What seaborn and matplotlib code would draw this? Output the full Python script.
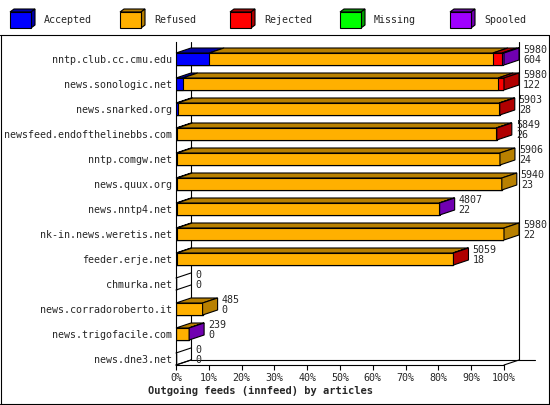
import numpy as np
import pandas as pd
import matplotlib
matplotlib.use("Agg")
import matplotlib.pyplot as plt
import seaborn as sns
from matplotlib.patches import Polygon
from matplotlib.lines import Line2D

hosts = ["nntp.club.cc.cmu.edu", "news.sonologic.net", "news.snarked.org",
         "newsfeed.endofthelinebbs.com", "nntp.comgw.net", "news.quux.org",
         "news.nntp4.net", "nk-in.news.weretis.net", "feeder.erje.net",
         "chmurka.net", "news.corradoroberto.it", "news.trigofacile.com",
         "news.dne3.net"]
offered = [5980, 5980, 5903, 5849, 5906, 5940, 4807, 5980, 5059, 0, 485, 239, 0]
accepted = [604, 122, 28, 26, 24, 23, 22, 22, 18, 0, 0, 0, 0]
refused = [5173, 5750, 5865, 5811, 5882, 5917, 4777, 5958, 5031, 0, 485, 237, 0]
rejected = [167, 108, 10, 12, 0, 0, 0, 0, 10, 0, 0, 0, 0]
missing = [0, 0, 0, 0, 0, 0, 0, 0, 0, 0, 0, 0, 0]
spooled = [36, 0, 0, 0, 0, 0, 8, 0, 0, 0, 0, 2, 0]

categories = ["Accepted", "Refused", "Rejected", "Missing", "Spooled"]
front_colors = ["#0000ff", "#ffb000", "#ff0000", "#00ff00", "#a000ff"]
side_colors = ["#0000a8", "#b88000", "#b00000", "#00a000", "#7000b0"]

W, H = 550, 405
sns.set_style("white")
plt.rcParams["font.family"] = ["DejaVu Sans Mono"]
plt.rcParams["font.size"] = 7.2

def px(x, y):
    return (x / W, 1 - y / H)

fig = plt.figure(figsize=(W / 100, H / 100), dpi=100)
ax = fig.add_axes([176 / W, (H - 365) / H, 328 / W, (365 - 42) / H])

df = pd.DataFrame({"host": hosts, "Accepted": accepted, "Refused": refused,
                   "Rejected": rejected, "Missing": missing, "Spooled": spooled})
scale = 100 / max(offered)
cum = df[categories].cumsum(axis=1) * scale

# stacked front faces: longest cumulative first, shorter ones on top
for cat, col in reversed(list(zip(categories, front_colors))):
    sns.barplot(x=cum[cat], y=df["host"], orient="h", color=col, saturation=1,
                width=0.48, edgecolor="black", linewidth=0.8, ax=ax, zorder=2)

ytop, ybot = (42 - 59) / 25, (365 - 59) / 25
ax.set_xlim(0, 100)
ax.set_ylim(ybot, ytop)

# depth of the fake 3d, in data units
ddx = 15 * 100 / 328
ddy = -5 / 25
h = 0.24
lw = 0.8

# back wall and floor
floor = ybot + ddy
for seg in [([ddx, ddx], [ytop, floor]), ([100 + ddx, 100 + ddx], [ytop, floor]),
            ([ddx, 100 + ddx + 16 * 100 / 328], [floor, floor]),
            ([0, ddx], [ybot, floor]), ([100, 100 + ddx], [ybot, floor])]:
    ax.add_line(Line2D(seg[0], seg[1], color="black", lw=lw, zorder=0.5, clip_on=False))

for i in range(len(hosts)):
    starts = [0] + list(cum.iloc[i, :-1])
    ends = list(cum.iloc[i])
    last = None
    for k in range(len(categories)):
        s, e = starts[k], ends[k]
        if e > s:
            last = k
            top = [(s, i - h), (e, i - h), (e + ddx, i - h + ddy), (s + ddx, i - h + ddy)]
            ax.add_patch(Polygon(top, closed=True, facecolor=side_colors[k],
                                 edgecolor="black", lw=lw, zorder=3, clip_on=False))
    e = ends[-1]
    side = [(e, i - h), (e + ddx, i - h + ddy), (e + ddx, i + h + ddy), (e, i + h)]
    if last is None:
        ax.add_line(Line2D([e, e + ddx], [i - h, i - h + ddy], color="black", lw=lw,
                           zorder=3, clip_on=False))
        ax.add_line(Line2D([e, e + ddx], [i + h, i + h + ddy], color="black", lw=lw,
                           zorder=3, clip_on=False))
    else:
        ax.add_patch(Polygon(side, closed=True, facecolor=side_colors[last],
                             edgecolor="black", lw=lw, zorder=3, clip_on=False))
    lx = e + ddx + 4 * 100 / 328
    ax.text(lx, i - 9 / 25, str(offered[i]), va="center", ha="left", clip_on=False)
    ax.text(lx, i + 1 / 25, str(accepted[i]), va="center", ha="left", clip_on=False)

ax.set_xticks(np.arange(0, 101, 10))
ax.set_xticklabels([f"{t}%" for t in range(0, 101, 10)])
ax.tick_params(axis="x", length=5 * 0.72, width=lw, direction="out", pad=2,
               bottom=True, color="black")
ax.tick_params(axis="y", length=0, pad=3)
ax.set_xlabel("")
ax.set_ylabel("")
for sp in ["top", "right"]:
    ax.spines[sp].set_visible(False)
for sp in ["left", "bottom"]:
    ax.spines[sp].set_linewidth(lw)
    ax.spines[sp].set_color("black")
ax.patch.set_alpha(0)

fig.text(*px(261, 391), "Outgoing feeds (innfeed) by articles", ha="center",
         va="center", fontweight="bold", fontsize=7.5)

# frame and legend
for seg in [([0, 549], [35, 35]), ([0.5, 0.5], [35, 404]),
            ([548.5, 548.5], [35, 404]), ([0, 549], [403.5, 403.5])]:
    fig.add_artist(Line2D([seg[0][0] / W, seg[0][1] / W],
                          [1 - seg[1][0] / H, 1 - seg[1][1] / H],
                          color="black", lw=lw))

for k, cat in enumerate(categories):
    x0 = 10 + 110 * k
    front = [px(x0, 12), px(x0 + 21, 12), px(x0 + 21, 28), px(x0, 28)]
    top = [px(x0, 12), px(x0 + 4, 9), px(x0 + 25, 9), px(x0 + 21, 12)]
    side = [px(x0 + 21, 12), px(x0 + 25, 9), px(x0 + 25, 25), px(x0 + 21, 28)]
    for poly, col in [(top, side_colors[k]), (side, side_colors[k]), (front, front_colors[k])]:
        fig.add_artist(Polygon(poly, closed=True, facecolor=col, edgecolor="black",
                               lw=lw, transform=fig.transFigure))
    fig.text(*px(x0 + 34, 20), cat, ha="left", va="center")

fig.savefig("out.png", dpi=100)
